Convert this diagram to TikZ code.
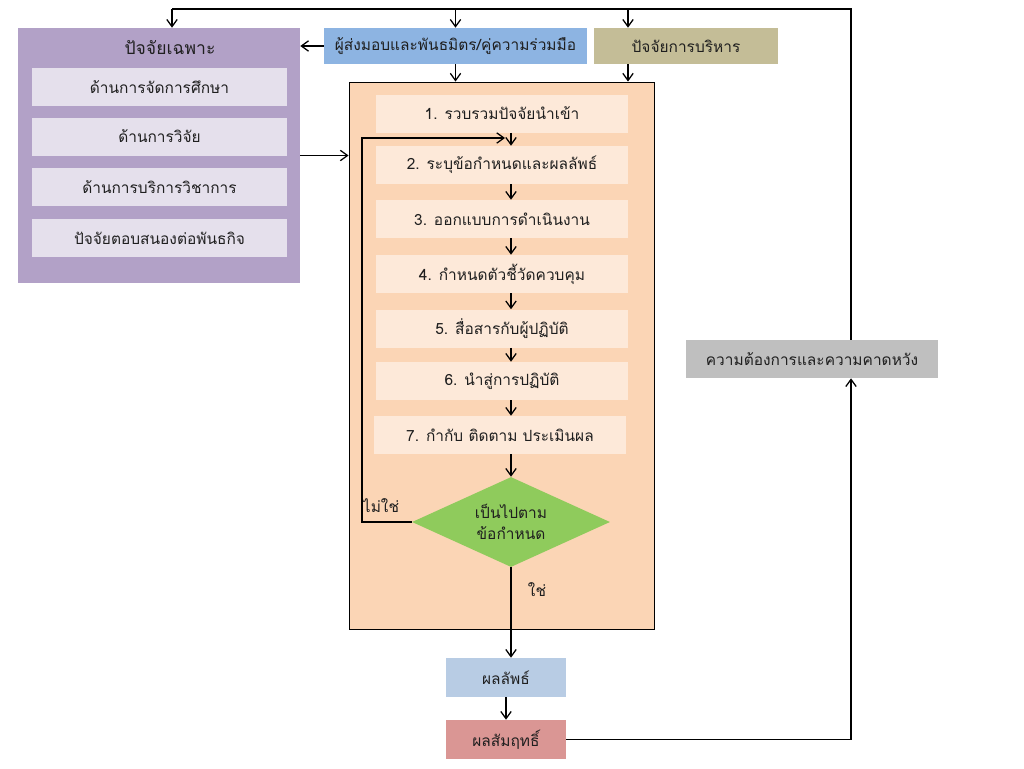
\documentclass[tikz,border=0pt]{standalone}
\usepackage{fontspec}
\setmainfont[Script=Thai]{Loma}
\usepackage{xcolor}
\usetikzlibrary{arrows.meta, positioning, shapes.geometric}

\definecolor{factorPurple}{HTML}{B2A1C7}
\definecolor{factorLight}{HTML}{E5E0EC}
\definecolor{partnerBlue}{HTML}{8DB4E2}
\definecolor{mgmtTan}{HTML}{C4BD97}
\definecolor{processOrange}{HTML}{FBD5B5}
\definecolor{stepLight}{HTML}{FDE9D9}
\definecolor{checkGreen}{HTML}{8FCB5C}
\definecolor{outcomeBlue}{HTML}{B8CCE4}
\definecolor{achieveRed}{HTML}{DA9694}
\definecolor{needGray}{HTML}{BFBFBF}
\definecolor{txt}{HTML}{1F1F1F}

\begin{document}
\begin{tikzpicture}[
        x=0.25mm, y=-0.25mm,
        font=\fontsize{11}{13}\selectfont, text=txt,
        block/.style={rectangle, inner sep=2pt, align=center},
        inbox/.style={block, fill=factorLight, minimum width=63.75mm, minimum height=9.5mm},
        stepbox/.style={block, fill=stepLight, minimum width=63mm, minimum height=9.5mm},
        arr/.style={-{Straight Barb[length=1.8mm, width=2.6mm]}, line width=0.9pt},
        wire/.style={line width=0.9pt},
    ]
        \useasboundingbox (0,0) rectangle (1024,768);

        % Guide lines of the connectors
        \coordinate (tr) at (851,9);
        \coordinate (tl) at (172,9);
        \coordinate (tx) at (628,0);
        \coordinate (axis) at (511,0);
        \coordinate (lp) at (362,138);
        \coordinate (lpend) at (505,138);

        % Left: specific factors
        \node[block, fill=factorPurple, minimum width=70.5mm, minimum height=63.75mm] (pur) at (159,155.5) {};
        \node[font=\fontsize{12.5}{14}\selectfont] (purT) at (170,48) {ปัจจัยเฉพาะ};
        \node[inbox] (edu) at (159.5,87) {ด้านการจัดการศึกษา};
        \node[inbox] (res) at (159.5,136.5) {ด้านการวิจัย};
        \node[inbox] (serv) at (159.5,187) {ด้านการบริการวิชาการ};
        \node[inbox] (miss) at (159.5,238) {ปัจจัยตอบสนองต่อพันธกิจ};

        % Top row
        \node[block, fill=partnerBlue, minimum width=65.75mm, minimum height=9mm] (part) at (455.5,46) {ผู้ส่งมอบและพันธมิตร/คู่ความร่วมมือ};
        \node[block, fill=mgmtTan, minimum width=46mm, minimum height=9mm] (mgmt) at (686,46) {ปัจจัยการบริหาร};

        % Process box
        \node[block, draw=black, line width=0.6pt, fill=processOrange, minimum width=76.25mm, minimum height=136.75mm] (big) at (501.5,355.5) {};
        \node[stepbox] (s1) at (502,113.5) {1. รวบรวมปัจจัยนำเข้า};
        \node[stepbox] (s2) at (502,165) {2. ระบุข้อกำหนดและผลลัพธ์};
        \node[stepbox] (s3) at (502,219) {3. ออกแบบการดำเนินงาน};
        \node[stepbox] (s4) at (502,274) {4. กำหนดตัวชี้วัดควบคุม};
        \node[stepbox] (s5) at (502,328.5) {5. สื่อสารกับผู้ปฏิบัติ};
        \node[stepbox] (s6) at (502,381) {6. นำสู่การปฏิบัติ};
        \node[stepbox] (s7) at (500,435) {7. กำกับ ติดตาม ประเมินผล};
        \node[diamond, aspect=2.2, inner sep=0pt, fill=checkGreen, minimum width=49.5mm, minimum height=22.5mm, align=center] (dia) at (511,522) {เป็นไปตาม\\[2pt]ข้อกำหนด};
        \node (no) at (381,506) {ไม่ใช่};
        \node (yes) at (537,590) {ใช่};

        % Results
        \node[block, fill=outcomeBlue, minimum width=30mm, minimum height=9.75mm] (out) at (506,677.5) {ผลลัพธ์};
        \node[block, fill=achieveRed, minimum width=30mm, minimum height=9.75mm] (ach) at (506,739.5) {ผลสัมฤทธิ์};

        % Right: needs
        \node[block, fill=needGray, minimum width=63mm, minimum height=9.5mm] (need) at (812,359) {ความต้องการและความคาดหวัง};

        % Arrows — top feedback
        \draw[wire] (need.north -| tr) -- (tr) -- (tl);
        \draw[arr] (tl) -- (tl |- pur.north);
        \draw[arr] (tl -| part.north) -- (part.north);
        \draw[arr] (tl -| tx) -- (mgmt.north -| tx);
        \draw[arr] (ach.east) -| (need.south -| tr);

        % Arrows — inputs
        \draw[arr] (part.west) -- (pur.east |- part.west);
        \draw[arr] (part.south) -- (part.south |- big.north);
        \draw[arr] (mgmt.south -| tx) -- (big.north -| tx);
        \draw[arr] (pur.east) -- (big.west |- pur.east);

        % Arrows — steps
        \draw[arr] (s1.south -| axis) -- (s2.north -| axis);
        \draw[arr] (s2.south -| axis) -- (s3.north -| axis);
        \draw[arr] (s3.south -| axis) -- (s4.north -| axis);
        \draw[arr] (s4.south -| axis) -- (s5.north -| axis);
        \draw[arr] (s5.south -| axis) -- (s6.north -| axis);
        \draw[arr] (s6.south -| axis) -- (s7.north -| axis);
        \draw[arr] (s7.south -| axis) -- (dia.north);
        \draw[arr] (dia.west) -| (lp) -- (lpend);
        \draw[arr] (dia.south) -- (out.north -| dia.south);
        \draw[arr] (out.south) -- (ach.north);
    \end{tikzpicture}
\end{document}
